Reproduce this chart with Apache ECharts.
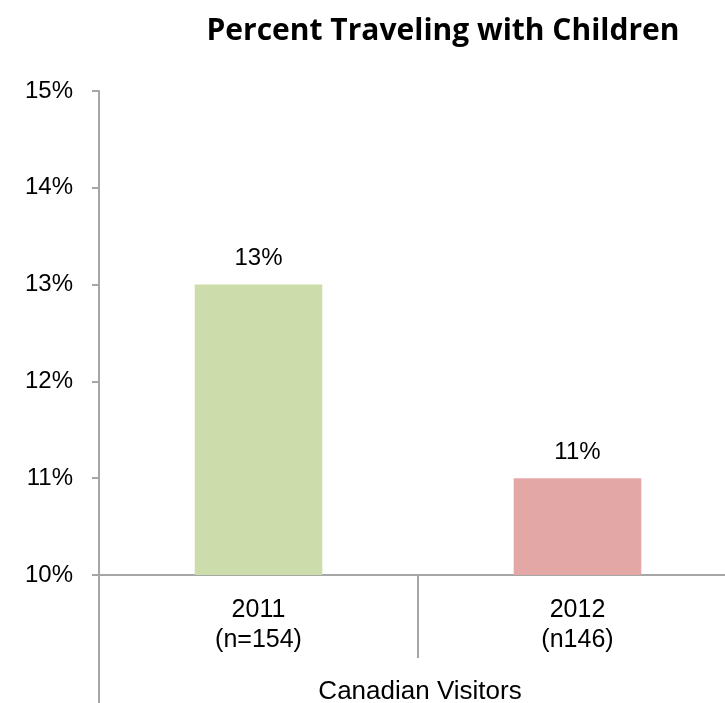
<!DOCTYPE html>
<html>
<head>
<meta charset="utf-8">
<style>
  html, body { margin: 0; padding: 0; background: #ffffff; }
  #chart { width: 725px; height: 703px; }
</style>
<script src="https://cdn.jsdelivr.net/npm/echarts@6/dist/echarts.min.js"></script>
</head>
<body>
<div id="chart"></div>
<script>
// Share of Canadian visitors travelling with children, by survey year
const categories = ['2011\n(n=154)', '2012\n(n146)'];
const percentValues = [13, 11];
const barColors = ['#cddcab', '#e3a8a6'];
const groupLabel = 'Canadian Visitors';
const chartTitle = 'Percent Traveling with Children';

const axisGray = '#a6a6a6';
const chart = echarts.init(document.getElementById('chart'), null, { renderer: 'canvas' });

const option = {
  animation: false,
  title: {
    text: chartTitle,
    left: 438,
    textAlign: 'center',
    top: 11,
    textStyle: { fontFamily: 'Open Sans', fontWeight: 'bold', fontSize: 30, color: '#000' }
  },
  // plot area runs slightly past the right edge of the canvas
  grid: { left: 99, width: 638, top: 91, bottom: 128, containLabel: false, outerBoundsMode: 'none' },
  xAxis: {
    type: 'category',
    data: categories,
    axisLine: { show: true, lineStyle: { color: axisGray, width: 2 } },
    axisTick: { show: true, alignWithLabel: false, length: 83, lineStyle: { color: axisGray, width: 2 } },
    axisLabel: {
      fontFamily: 'Liberation Sans', fontSize: 25, color: '#000', lineHeight: 30, margin: 20
    }
  },
  yAxis: {
    type: 'value',
    min: 10,
    max: 15,
    interval: 1,
    splitLine: { show: false },
    axisLine: { show: true, lineStyle: { color: axisGray, width: 2 } },
    axisTick: { show: true, length: 7, lineStyle: { color: axisGray, width: 2 } },
    axisLabel: {
      formatter: '{value}%', fontFamily: 'Liberation Sans', fontSize: 24, color: '#000', margin: 26
    }
  },
  series: [{
    type: 'bar',
    barWidth: '40%',
    data: percentValues.map((v, i) => ({ value: v, itemStyle: { color: barColors[i] } })),
    label: {
      show: true,
      position: 'top',
      distance: 14,
      formatter: '{c}%',
      fontFamily: 'Liberation Sans', fontSize: 24, color: '#000'
    }
  }]
};
chart.setOption(option);

// Outer category level: extend the value axis downward and add the group caption
const origin = chart.convertToPixel({ xAxisIndex: 0, yAxisIndex: 0 }, [0, 10]);
const leftX = 99;
const midX = (chart.convertToPixel({ xAxisIndex: 0 }, 0) + chart.convertToPixel({ xAxisIndex: 0 }, 1)) / 2;
chart.setOption({
  graphic: [
    {
      type: 'line',
      shape: { x1: leftX, y1: origin[1], x2: leftX, y2: 703 },
      style: { stroke: axisGray, lineWidth: 2 }
    },
    {
      type: 'text',
      x: midX + 2,
      y: 692,
      style: {
        text: groupLabel, align: 'center', verticalAlign: 'middle',
        font: '26px "Liberation Sans"', fill: '#000'
      }
    }
  ]
});
</script>
</body>
</html>
